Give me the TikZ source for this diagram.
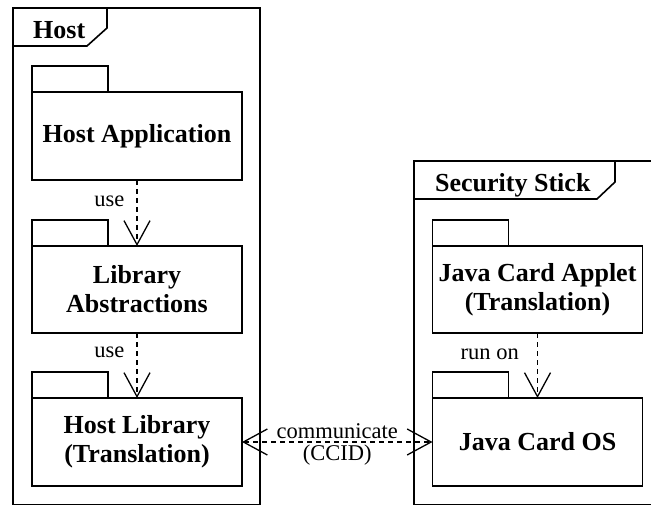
\documentclass[tikz,border=0pt]{standalone}
\usepackage{fontspec}
\setmainfont{Liberation Serif}
\usetikzlibrary{arrows.meta, positioning}

\begin{document}
\begin{tikzpicture}[x=1pt, y=-1pt,
  >={Straight Barb[length=24pt, width=26pt, line width=1.3pt]},
  frame/.style={line width=1.6pt},
  pkg/.style={draw, line width=1.6pt, outer sep=0pt, minimum width=210pt, minimum height=88pt, align=center, font=\fontsize{26}{29}\selectfont\bfseries},
  frametitle/.style={anchor=base west, inner sep=0pt, font=\fontsize{26}{29}\selectfont\bfseries},
  dep/.style={->, line width=1.3pt, dash pattern=on 5pt off 4pt},
  lbl/.style={font=\fontsize{22.5}{27}\selectfont, inner sep=0pt}]
\useasboundingbox (0,0) rectangle (651,505);
\clip (0,0) rectangle (651,505);

% Host frame
\draw[frame] (13,8) rectangle (260,504.5);
\draw[frame] (13,46) -- (87,46) -- (107,28) -- (107,8);
\node[frametitle] (hosttitle) at (33,39) {Host};

% Security Stick frame
\draw[frame] (414,161) rectangle (700,504.5);
\draw[frame] (414,199) -- (597,199) -- (615,182) -- (615,161);
\node[frametitle] (sticktitle) at (435,192) {Security Stick};

% packages
\node[pkg] (app) at (137,136) {Host Application};
\node[pkg, minimum height=87pt] (abs) at (137,289.5) {Library\\Abstractions};
\node[pkg] (lib) at (137,442) {Host Library\\(Translation)};
\node[pkg, minimum height=87pt] (applet) at (537.5,289.5) {Java Card Applet\\(Translation)};
\node[pkg] (os) at (537.5,442) {Java Card OS};

% package tabs
\foreach \n in {app,abs,lib,applet,os}
    \draw[frame] (\n.north west) rectangle ++(76pt,26pt);

% dependencies
\draw[dep] (app) -- node[lbl, pos=0.32, left=12pt] (use1) {use} (abs);
\draw[dep] (abs) -- node[lbl, pos=0.3, left=12pt] (use2) {use} (lib);
\draw[dep] (applet) -- node[lbl, pos=0.33, left=18pt] (runon) {run on} (os);
\draw[dep, <->] (lib) -- node[lbl, above=3pt] (comm) {communicate} node[lbl, below=2pt] (ccid) {(CCID)} (os);
\end{tikzpicture}
\end{document}
